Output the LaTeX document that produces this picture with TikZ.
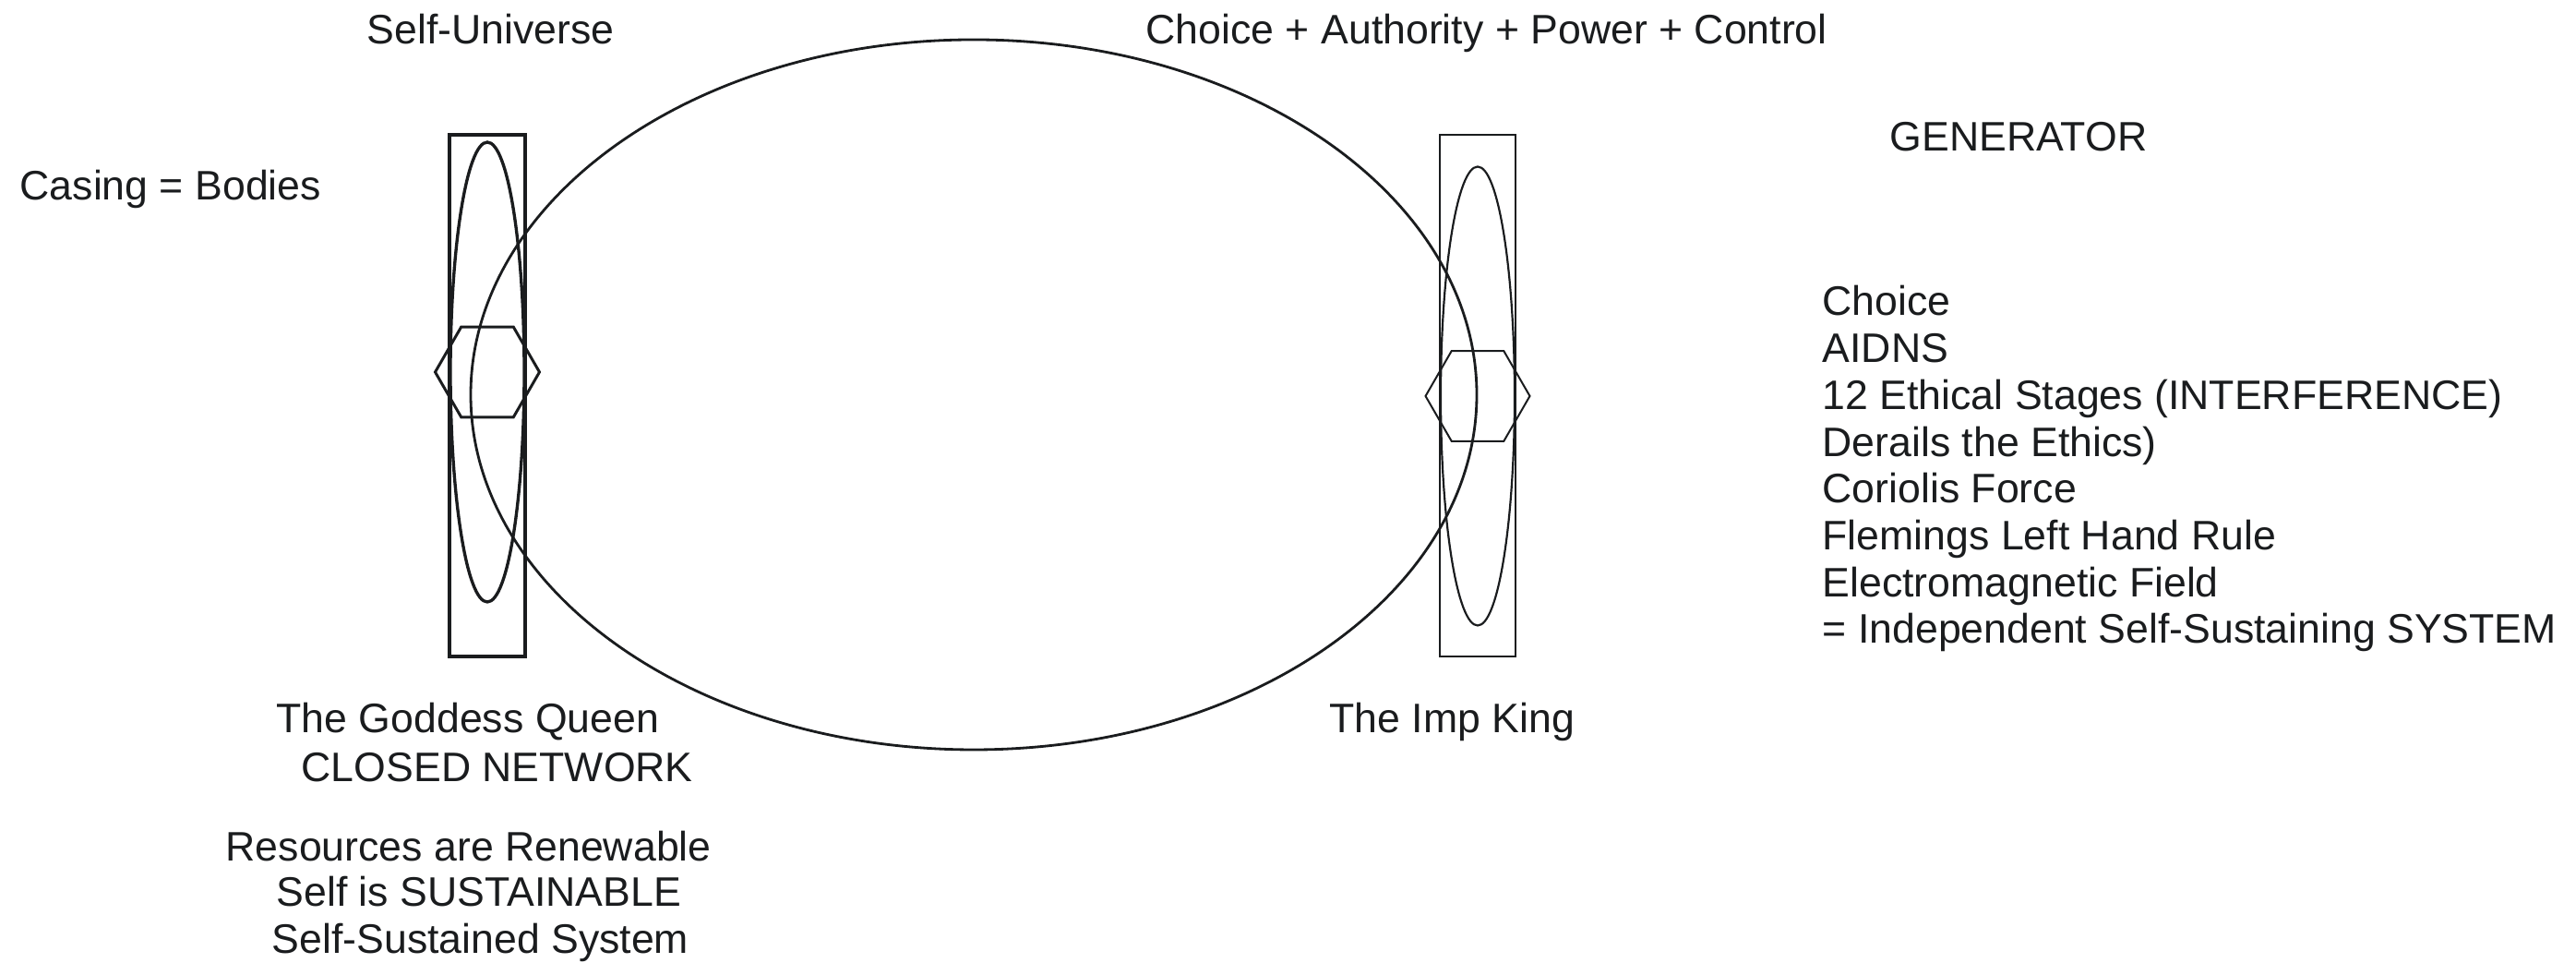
\documentclass[tikz,border=0pt]{standalone}
\usepackage{fontspec}
\setmainfont{Liberation Sans}
\definecolor{ink}{HTML}{1A1C1E}
\tikzset{
  heavy/.style={draw=ink, line width=0.95pt},
  light/.style={draw=ink, line width=0.62pt},
  lbl/.style={anchor=base west, inner sep=0pt, text=ink},
}
\begin{document}
\begin{tikzpicture}[font=\fontsize{12.7}{15}\selectfont]
  \useasboundingbox (0,0) rectangle (27.91,10.43);
  % big loop between the two casings
  \draw[draw=ink, line width=0.8pt] (10.55,6.155) ellipse [x radius=5.45, y radius=3.845];
  % left casing (queen)
  \draw[heavy] (4.87,3.32) rectangle (5.69,8.97);
  \draw[heavy] (5.28,6.40) ellipse [x radius=0.40, y radius=2.49];
  \draw[heavy, line width=0.85pt, shift={(5.28,6.40)}] (0:0.565) \foreach \a in {60,120,...,300}{ -- (\a:0.565)} -- cycle;
  % right casing (king)
  \draw[light] (15.60,3.32) rectangle (16.42,8.97);
  \draw[light] (16.01,6.14) ellipse [x radius=0.40, y radius=2.485];
  \draw[light, line width=0.57pt, shift={(16.01,6.14)}] (0:0.565) \foreach \a in {60,120,...,300}{ -- (\a:0.565)} -- cycle;

  \node[lbl] (selfuni) at (3.97,9.95) {Self-Universe};
  \node[lbl] (cap) at (12.41,9.95) {Choice + Authority + Power + Control};
  \node[lbl] (gen) at (20.47,8.79) {GENERATOR};
  \node[lbl] (casing) at (0.21,8.26) {Casing = Bodies};
  \node[lbl] (queen) at (2.99,2.49) {The Goddess Queen};
  \node[lbl] (closed) at (3.26,1.96) {CLOSED NETWORK};
  \node[lbl] (res) at (2.44,1.10) {Resources are Renewable};
  \node[lbl] (sust) at (2.99,0.61) {Self is SUSTAINABLE};
  \node[lbl] (sys) at (2.94,0.10) {Self-Sustained System};
  \node[lbl] (imp) at (14.40,2.49) {The Imp King};
  \foreach \t [count=\i] in {Choice, AIDNS, 12 Ethical Stages (INTERFERENCE), Derails the Ethics), Coriolis Force, Flemings Left Hand Rule, Electromagnetic Field, = Independent Self-Sustaining SYSTEM}
    \node[lbl] (gen\i) at (19.74,{7.01-0.507*(\i-1)}) {\t};
\end{tikzpicture}
\end{document}
